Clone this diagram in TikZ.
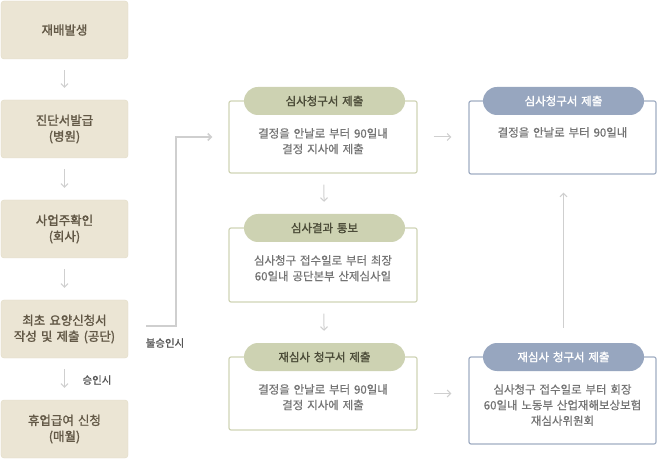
\documentclass[tikz,border=0pt]{standalone}
\usepackage{fontspec}
\setmainfont{Noto Sans CJK KR}[FakeBold=0.6,WordSpace=1.5]
\newfontfamily\krmed{Noto Sans CJK KR}[FakeBold=1.6,WordSpace=1.5]
\usetikzlibrary{arrows.meta}
\definecolor{beigefill}{HTML}{EBE5D4}
\definecolor{beigeline}{HTML}{E1DAC6}
\definecolor{browntext}{HTML}{625846}
\definecolor{olivefill}{HTML}{CDD2B2}
\definecolor{oliveline}{HTML}{D0D4B6}
\definecolor{olivetext}{HTML}{4B4B38}
\definecolor{bluefill}{HTML}{97A6BF}
\definecolor{blueline}{HTML}{A0ADC3}
\definecolor{graytext}{HTML}{747474}
\definecolor{labeltext}{HTML}{555555}
\definecolor{arrowgray}{HTML}{CFCFCF}
\begin{document}
\begin{tikzpicture}[x=1bp,y=-1bp,every node/.style={align=center},
	leftbox/.style={draw=beigeline,fill=beigefill,rounded corners=3bp,minimum width=127bp,minimum height=58bp,inner sep=0,text=browntext,font=\krmed\fontsize{12.5}{16}\selectfont},
	olivebox/.style={draw=oliveline,line width=1.2bp,fill=white,rounded corners=2bp,minimum width=188bp,inner sep=0},
	bluebox/.style={draw=blueline,line width=1.2bp,fill=white,rounded corners=2bp,minimum width=187bp,inner sep=0},
	olivehead/.style={fill=olivefill,rounded corners=14bp,minimum width=161bp,minimum height=28bp,inner sep=0,text=olivetext,font=\krmed\fontsize{11.5}{14}\selectfont},
	bluehead/.style={olivehead,fill=bluefill,text=white},
	bodytext/.style={anchor=north,inner sep=0,text=graytext,font=\fontsize{11.5}{15.7}\selectfont},
	lbl/.style={inner sep=0,text=labeltext,font=\fontsize{10.5}{12}\selectfont},
	arr/.style={draw=arrowgray,line width=1bp,shorten <=11bp,shorten >=12bp,-{Straight Barb[length=3.5bp,width=7bp]}},
	conn/.style={draw=arrowgray,line width=1.6bp,-{Straight Barb[length=3.5bp,width=7bp]}}]
	\useasboundingbox (0,0) rectangle (657,460);
	
	\node[leftbox](s1)at(64.5,30){재배발생};
	\node[leftbox](s2)at(64.5,129){진단서발급\\(병원)};
	\node[leftbox](s3)at(64.5,229){사업주확인\\(회사)};
	\node[leftbox](s4)at(64.5,329){최초 요양신청서\\작성 및 제출 (공단)};
	\node[leftbox](s5)at(64.5,429){휴업급여 신청\\(매월)};
	\foreach \a/\b in{s1/s2,s2/s3,s3/s4,s4/s5}
	\draw[arr](\a)--(\b);
	\node[lbl](ok)at(97,380){승인시};
	\node[lbl](no)at(165,343){불승인시};
	
	\node[olivebox,minimum height=72bp](bA)at(323,137){};
	\node[olivehead](hA)at(324.5,101){심사청구서 제출};
	\node[bodytext](tA)at(323,128){결정을 안날로 부터 90일내\\결정 지사에 제출};
	\node[olivebox,minimum height=74bp](bB)at(323,265){};
	\node[olivehead](hB)at(324.5,228){심사결과 통보};
	\node[bodytext](tB)at(323,255){심사청구 접수일로 부터 최장\\60일내 공단본부 산제심사일};
	\node[olivebox,minimum height=73bp](bC)at(323,393.5){};
	\node[olivehead](hC)at(324.5,357){재심사 청구서 제출};
	\node[bodytext](tC)at(323,384){결정을 안날로 부터 90일내\\결정 지사에 제출};
	
	\node[bluebox,minimum height=73bp](bE)at(562.5,137.5){};
	\node[bluehead](hE)at(563.5,101){심사청구서 제출};
	\node[bodytext](tE)at(562.5,127){결정을 안날로 부터 90일내};
	\node[bluebox,minimum height=87bp](bD)at(562.5,400.5){};
	\node[bluehead](hD)at(563.5,357){재심사 청구서 제출};
	\node[bodytext](tD)at(562.5,384){심사청구 접수일로 부터 회장\\60일내 노동부 산업재해보상보험\\재심사위원회};
	
	\draw[conn]([xshift=18bp,yshift=3bp]s4.east)--++(30,0)|-([xshift=-16bp]bA.west);
	\draw[arr](bA)--(hB);
	\draw[arr](bB)--(hC);
	\draw[arr,shorten <=16bp,shorten >=17bp](bA.east)--(bA.east-|bE.west);
	\draw[arr,shorten <=16bp,shorten >=17bp](bC.east)--(bC.east-|bD.west);
	\draw[arr,shorten <=15bp,shorten >=18bp](hD.north)--(hD.north|-bE.south);
\end{tikzpicture}
\end{document}
